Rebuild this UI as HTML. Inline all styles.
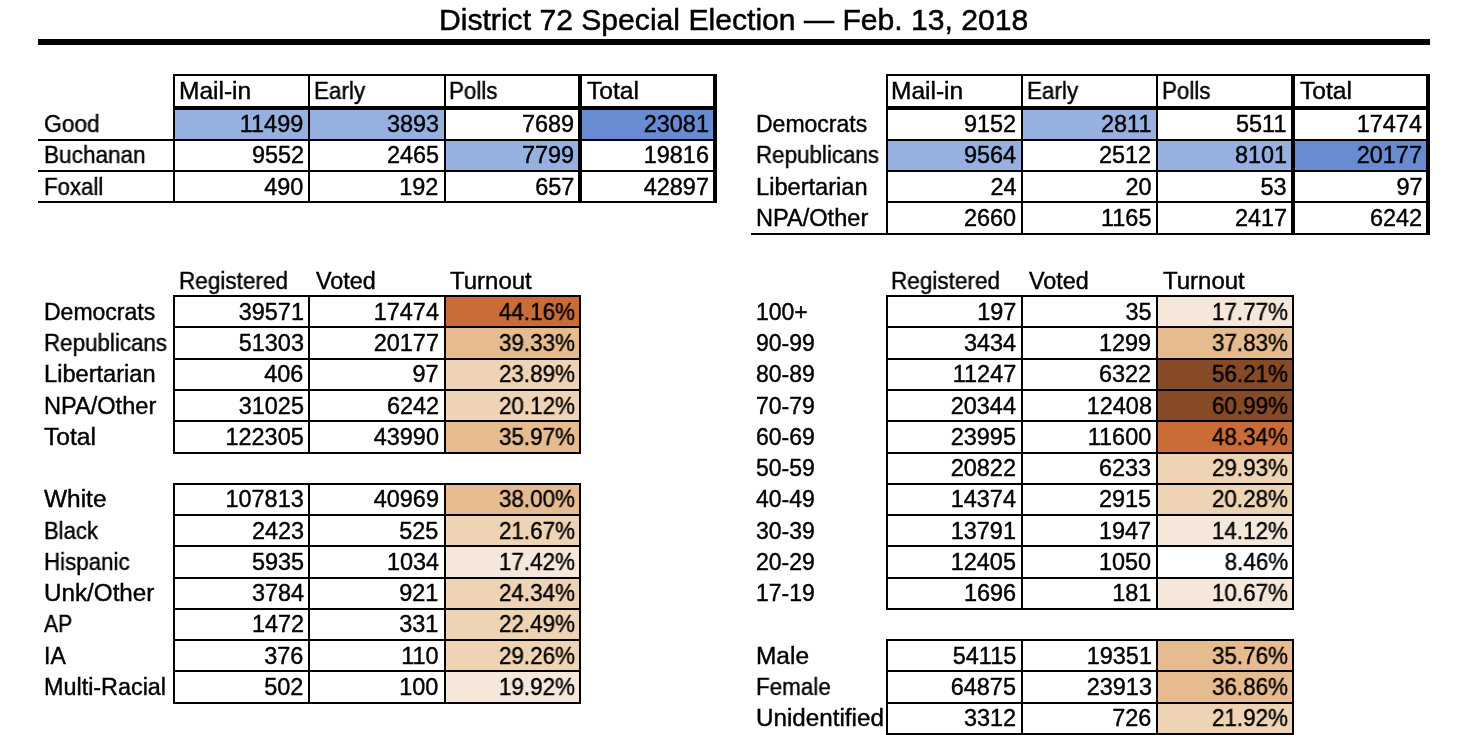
<!DOCTYPE html>
<html><head><meta charset="utf-8"><title>District 72 Special Election</title>
<style>
html,body{margin:0;padding:0;background:#fff;}
body{width:1466px;height:735px;position:relative;overflow:hidden;font-family:"Liberation Sans",sans-serif;color:#000;}
.r{position:absolute;}
.t{position:absolute;will-change:transform;-webkit-text-stroke:0.4px #000;font-size:23px;line-height:26px;white-space:nowrap;}
.l{transform-origin:0 50%;}
.n{transform:scaleX(1.02);transform-origin:100% 50%;}
.p{transform:scaleX(0.975);}
.title{position:absolute;will-change:transform;-webkit-text-stroke:0.5px #000;transform:scaleX(1.004);transform-origin:0 50%;font-size:30px;line-height:34px;white-space:nowrap;}
</style></head><body>
<div class="title" style="left:438.8px;top:3px">District 72 Special Election — Feb. 13, 2018</div>
<div class="r" style="left:38.00px;top:39.00px;width:1392.00px;height:6.00px;background:#000"></div>
<div class="r" style="left:174.30px;top:107.70px;width:135.10px;height:32.00px;background:#96B1DF"></div>
<div class="r" style="left:309.40px;top:107.70px;width:135.10px;height:32.00px;background:#96B1DF"></div>
<div class="r" style="left:579.60px;top:107.70px;width:135.10px;height:32.00px;background:#688BD2"></div>
<div class="r" style="left:444.50px;top:139.70px;width:135.10px;height:31.30px;background:#96B1DF"></div>
<div class="t l" style="left:178.80px;top:77.80px;transform:scaleX(1.066)">Mail-in</div>
<div class="t l" style="left:313.90px;top:77.80px;transform:scaleX(0.975)">Early</div>
<div class="t l" style="left:449.00px;top:77.80px;transform:scaleX(0.974)">Polls</div>
<div class="t l" style="left:587.10px;top:77.80px;transform:scaleX(1.07)">Total</div>
<div class="t l" style="left:43.70px;top:111.00px;transform:scaleX(0.989)">Good</div>
<div class="t n" style="right:1162.30px;top:111.00px">11499</div>
<div class="t n" style="right:1027.20px;top:111.00px">3893</div>
<div class="t n" style="right:892.10px;top:111.00px">7689</div>
<div class="t n" style="right:757.00px;top:111.00px">23081</div>
<div class="t l" style="left:43.70px;top:142.30px;transform:scaleX(0.981)">Buchanan</div>
<div class="t n" style="right:1162.30px;top:142.30px">9552</div>
<div class="t n" style="right:1027.20px;top:142.30px">2465</div>
<div class="t n" style="right:892.10px;top:142.30px">7799</div>
<div class="t n" style="right:757.00px;top:142.30px">19816</div>
<div class="t l" style="left:43.70px;top:173.70px;transform:scaleX(0.967)">Foxall</div>
<div class="t n" style="right:1162.30px;top:173.70px">490</div>
<div class="t n" style="right:1027.20px;top:173.70px">192</div>
<div class="t n" style="right:892.10px;top:173.70px">657</div>
<div class="t n" style="right:757.00px;top:173.70px">42897</div>
<div class="r" style="left:173.30px;top:74.30px;width:543.40px;height:2.00px;background:#000"></div>
<div class="r" style="left:173.30px;top:105.70px;width:543.40px;height:4.00px;background:#000"></div>
<div class="r" style="left:38.20px;top:138.70px;width:678.50px;height:2.00px;background:#000"></div>
<div class="r" style="left:38.20px;top:170.00px;width:678.50px;height:2.00px;background:#000"></div>
<div class="r" style="left:38.20px;top:201.40px;width:678.50px;height:2.00px;background:#000"></div>
<div class="r" style="left:173.30px;top:74.30px;width:2.00px;height:129.10px;background:#000"></div>
<div class="r" style="left:308.40px;top:74.30px;width:2.00px;height:129.10px;background:#000"></div>
<div class="r" style="left:443.50px;top:74.30px;width:2.00px;height:129.10px;background:#000"></div>
<div class="r" style="left:577.60px;top:74.30px;width:4.00px;height:129.10px;background:#000"></div>
<div class="r" style="left:712.70px;top:74.30px;width:4.00px;height:129.10px;background:#000"></div>
<div class="r" style="left:1022.00px;top:107.70px;width:135.30px;height:32.00px;background:#96B1DF"></div>
<div class="r" style="left:886.80px;top:139.70px;width:135.20px;height:31.30px;background:#96B1DF"></div>
<div class="r" style="left:1157.30px;top:139.70px;width:135.30px;height:31.30px;background:#96B1DF"></div>
<div class="r" style="left:1292.60px;top:139.70px;width:135.40px;height:31.30px;background:#688BD2"></div>
<div class="t l" style="left:891.30px;top:77.80px;transform:scaleX(1.066)">Mail-in</div>
<div class="t l" style="left:1026.50px;top:77.80px;transform:scaleX(0.975)">Early</div>
<div class="t l" style="left:1161.80px;top:77.80px;transform:scaleX(0.974)">Polls</div>
<div class="t l" style="left:1300.10px;top:77.80px;transform:scaleX(1.07)">Total</div>
<div class="t l" style="left:756.20px;top:111.00px;transform:scaleX(0.997)">Democrats</div>
<div class="t n" style="right:449.70px;top:111.00px">9152</div>
<div class="t n" style="right:314.40px;top:111.00px">2811</div>
<div class="t n" style="right:179.10px;top:111.00px">5511</div>
<div class="t n" style="right:43.70px;top:111.00px">17474</div>
<div class="t l" style="left:756.20px;top:142.30px;transform:scaleX(0.972)">Republicans</div>
<div class="t n" style="right:449.70px;top:142.30px">9564</div>
<div class="t n" style="right:314.40px;top:142.30px">2512</div>
<div class="t n" style="right:179.10px;top:142.30px">8101</div>
<div class="t n" style="right:43.70px;top:142.30px">20177</div>
<div class="t l" style="left:756.20px;top:173.70px;transform:scaleX(1.027)">Libertarian</div>
<div class="t n" style="right:449.70px;top:173.70px">24</div>
<div class="t n" style="right:314.40px;top:173.70px">20</div>
<div class="t n" style="right:179.10px;top:173.70px">53</div>
<div class="t n" style="right:43.70px;top:173.70px">97</div>
<div class="t l" style="left:756.20px;top:204.90px;transform:scaleX(1.025)">NPA/Other</div>
<div class="t n" style="right:449.70px;top:204.90px">2660</div>
<div class="t n" style="right:314.40px;top:204.90px">1165</div>
<div class="t n" style="right:179.10px;top:204.90px">2417</div>
<div class="t n" style="right:43.70px;top:204.90px">6242</div>
<div class="r" style="left:885.80px;top:74.30px;width:544.20px;height:2.00px;background:#000"></div>
<div class="r" style="left:885.80px;top:105.70px;width:544.20px;height:4.00px;background:#000"></div>
<div class="r" style="left:885.80px;top:138.70px;width:544.20px;height:2.00px;background:#000"></div>
<div class="r" style="left:885.80px;top:170.00px;width:544.20px;height:2.00px;background:#000"></div>
<div class="r" style="left:885.80px;top:201.40px;width:544.20px;height:2.00px;background:#000"></div>
<div class="r" style="left:750.70px;top:232.60px;width:679.30px;height:2.00px;background:#000"></div>
<div class="r" style="left:885.80px;top:74.30px;width:2.00px;height:160.30px;background:#000"></div>
<div class="r" style="left:1021.00px;top:74.30px;width:2.00px;height:160.30px;background:#000"></div>
<div class="r" style="left:1156.30px;top:74.30px;width:2.00px;height:160.30px;background:#000"></div>
<div class="r" style="left:1290.60px;top:74.30px;width:4.00px;height:160.30px;background:#000"></div>
<div class="r" style="left:1426.00px;top:74.30px;width:4.00px;height:160.30px;background:#000"></div>
<div class="t l" style="left:178.80px;top:268.00px;transform:scaleX(0.98)">Registered</div>
<div class="t l" style="left:315.90px;top:268.00px;transform:scaleX(1.016)">Voted</div>
<div class="t l" style="left:450.00px;top:268.00px;transform:scaleX(1.043)">Turnout</div>
<div class="r" style="left:444.50px;top:296.10px;width:135.10px;height:31.28px;background:#C96C37"></div>
<div class="t l" style="left:43.70px;top:298.68px;transform:scaleX(0.997)">Democrats</div>
<div class="t n" style="right:1162.30px;top:298.68px">39571</div>
<div class="t n" style="right:1027.20px;top:298.68px">17474</div>
<div class="t n p" style="right:890.60px;top:298.68px">44.16%</div>
<div class="r" style="left:444.50px;top:327.38px;width:135.10px;height:31.28px;background:#E6BB90"></div>
<div class="t l" style="left:43.70px;top:329.96px;transform:scaleX(0.972)">Republicans</div>
<div class="t n" style="right:1162.30px;top:329.96px">51303</div>
<div class="t n" style="right:1027.20px;top:329.96px">20177</div>
<div class="t n p" style="right:890.60px;top:329.96px">39.33%</div>
<div class="r" style="left:444.50px;top:358.66px;width:135.10px;height:31.28px;background:#EED4B4"></div>
<div class="t l" style="left:43.70px;top:361.24px;transform:scaleX(1.027)">Libertarian</div>
<div class="t n" style="right:1162.30px;top:361.24px">406</div>
<div class="t n" style="right:1027.20px;top:361.24px">97</div>
<div class="t n p" style="right:890.60px;top:361.24px">23.89%</div>
<div class="r" style="left:444.50px;top:389.94px;width:135.10px;height:31.28px;background:#EED4B4"></div>
<div class="t l" style="left:43.70px;top:392.52px;transform:scaleX(1.025)">NPA/Other</div>
<div class="t n" style="right:1162.30px;top:392.52px">31025</div>
<div class="t n" style="right:1027.20px;top:392.52px">6242</div>
<div class="t n p" style="right:890.60px;top:392.52px">20.12%</div>
<div class="r" style="left:444.50px;top:421.22px;width:135.10px;height:31.28px;background:#E6BB90"></div>
<div class="t l" style="left:43.70px;top:423.80px;transform:scaleX(1.07)">Total</div>
<div class="t n" style="right:1162.30px;top:423.80px">122305</div>
<div class="t n" style="right:1027.20px;top:423.80px">43990</div>
<div class="t n p" style="right:890.60px;top:423.80px">35.97%</div>
<div class="r" style="left:173.30px;top:295.10px;width:407.30px;height:2.00px;background:#000"></div>
<div class="r" style="left:173.30px;top:326.38px;width:407.30px;height:2.00px;background:#000"></div>
<div class="r" style="left:173.30px;top:357.66px;width:407.30px;height:2.00px;background:#000"></div>
<div class="r" style="left:173.30px;top:388.94px;width:407.30px;height:2.00px;background:#000"></div>
<div class="r" style="left:173.30px;top:420.22px;width:407.30px;height:2.00px;background:#000"></div>
<div class="r" style="left:173.30px;top:451.50px;width:407.30px;height:2.00px;background:#000"></div>
<div class="r" style="left:173.30px;top:295.10px;width:2.00px;height:158.40px;background:#000"></div>
<div class="r" style="left:308.40px;top:295.10px;width:2.00px;height:158.40px;background:#000"></div>
<div class="r" style="left:443.50px;top:295.10px;width:2.00px;height:158.40px;background:#000"></div>
<div class="r" style="left:578.60px;top:295.10px;width:2.80px;height:158.40px;background:#000"></div>
<div class="r" style="left:444.50px;top:483.78px;width:135.10px;height:31.28px;background:#E6BB90"></div>
<div class="t l" style="left:43.70px;top:486.36px;transform:scaleX(1.063)">White</div>
<div class="t n" style="right:1162.30px;top:486.36px">107813</div>
<div class="t n" style="right:1027.20px;top:486.36px">40969</div>
<div class="t n p" style="right:890.60px;top:486.36px">38.00%</div>
<div class="r" style="left:444.50px;top:515.06px;width:135.10px;height:31.28px;background:#EED4B4"></div>
<div class="t l" style="left:43.70px;top:517.64px;transform:scaleX(0.959)">Black</div>
<div class="t n" style="right:1162.30px;top:517.64px">2423</div>
<div class="t n" style="right:1027.20px;top:517.64px">525</div>
<div class="t n p" style="right:890.60px;top:517.64px">21.67%</div>
<div class="r" style="left:444.50px;top:546.34px;width:135.10px;height:31.28px;background:#F5E7DA"></div>
<div class="t l" style="left:43.70px;top:548.92px;transform:scaleX(0.971)">Hispanic</div>
<div class="t n" style="right:1162.30px;top:548.92px">5935</div>
<div class="t n" style="right:1027.20px;top:548.92px">1034</div>
<div class="t n p" style="right:890.60px;top:548.92px">17.42%</div>
<div class="r" style="left:444.50px;top:577.62px;width:135.10px;height:31.28px;background:#EED4B4"></div>
<div class="t l" style="left:43.70px;top:580.20px;transform:scaleX(1.053)">Unk/Other</div>
<div class="t n" style="right:1162.30px;top:580.20px">3784</div>
<div class="t n" style="right:1027.20px;top:580.20px">921</div>
<div class="t n p" style="right:890.60px;top:580.20px">24.34%</div>
<div class="r" style="left:444.50px;top:608.90px;width:135.10px;height:31.28px;background:#EED4B4"></div>
<div class="t l" style="left:43.70px;top:611.48px;transform:scaleX(0.92)">AP</div>
<div class="t n" style="right:1162.30px;top:611.48px">1472</div>
<div class="t n" style="right:1027.20px;top:611.48px">331</div>
<div class="t n p" style="right:890.60px;top:611.48px">22.49%</div>
<div class="r" style="left:444.50px;top:640.18px;width:135.10px;height:31.28px;background:#EED4B4"></div>
<div class="t l" style="left:43.70px;top:642.76px">IA</div>
<div class="t n" style="right:1162.30px;top:642.76px">376</div>
<div class="t n" style="right:1027.20px;top:642.76px">110</div>
<div class="t n p" style="right:890.60px;top:642.76px">29.26%</div>
<div class="r" style="left:444.50px;top:671.46px;width:135.10px;height:31.28px;background:#F5E7DA"></div>
<div class="t l" style="left:43.70px;top:674.04px;transform:scaleX(1.016)">Multi-Racial</div>
<div class="t n" style="right:1162.30px;top:674.04px">502</div>
<div class="t n" style="right:1027.20px;top:674.04px">100</div>
<div class="t n p" style="right:890.60px;top:674.04px">19.92%</div>
<div class="r" style="left:173.30px;top:482.78px;width:407.30px;height:2.00px;background:#000"></div>
<div class="r" style="left:173.30px;top:514.06px;width:407.30px;height:2.00px;background:#000"></div>
<div class="r" style="left:173.30px;top:545.34px;width:407.30px;height:2.00px;background:#000"></div>
<div class="r" style="left:173.30px;top:576.62px;width:407.30px;height:2.00px;background:#000"></div>
<div class="r" style="left:173.30px;top:607.90px;width:407.30px;height:2.00px;background:#000"></div>
<div class="r" style="left:173.30px;top:639.18px;width:407.30px;height:2.00px;background:#000"></div>
<div class="r" style="left:173.30px;top:670.46px;width:407.30px;height:2.00px;background:#000"></div>
<div class="r" style="left:173.30px;top:701.74px;width:407.30px;height:2.00px;background:#000"></div>
<div class="r" style="left:173.30px;top:482.78px;width:2.00px;height:220.96px;background:#000"></div>
<div class="r" style="left:308.40px;top:482.78px;width:2.00px;height:220.96px;background:#000"></div>
<div class="r" style="left:443.50px;top:482.78px;width:2.00px;height:220.96px;background:#000"></div>
<div class="r" style="left:578.60px;top:482.78px;width:2.80px;height:220.96px;background:#000"></div>
<div class="t l" style="left:891.30px;top:268.00px;transform:scaleX(0.98)">Registered</div>
<div class="t l" style="left:1028.50px;top:268.00px;transform:scaleX(1.016)">Voted</div>
<div class="t l" style="left:1162.80px;top:268.00px;transform:scaleX(1.043)">Turnout</div>
<div class="r" style="left:1157.30px;top:296.10px;width:135.30px;height:31.28px;background:#F5E7DA"></div>
<div class="t l" style="left:756.20px;top:298.68px">100+</div>
<div class="t n" style="right:449.70px;top:298.68px">197</div>
<div class="t n" style="right:314.40px;top:298.68px">35</div>
<div class="t n p" style="right:177.60px;top:298.68px">17.77%</div>
<div class="r" style="left:1157.30px;top:327.38px;width:135.30px;height:31.28px;background:#E6BB90"></div>
<div class="t l" style="left:756.20px;top:329.96px">90-99</div>
<div class="t n" style="right:449.70px;top:329.96px">3434</div>
<div class="t n" style="right:314.40px;top:329.96px">1299</div>
<div class="t n p" style="right:177.60px;top:329.96px">37.83%</div>
<div class="r" style="left:1157.30px;top:358.66px;width:135.30px;height:31.28px;background:#864A26"></div>
<div class="t l" style="left:756.20px;top:361.24px">80-89</div>
<div class="t n" style="right:449.70px;top:361.24px">11247</div>
<div class="t n" style="right:314.40px;top:361.24px">6322</div>
<div class="t n p" style="right:177.60px;top:361.24px">56.21%</div>
<div class="r" style="left:1157.30px;top:389.94px;width:135.30px;height:31.28px;background:#864A26"></div>
<div class="t l" style="left:756.20px;top:392.52px">70-79</div>
<div class="t n" style="right:449.70px;top:392.52px">20344</div>
<div class="t n" style="right:314.40px;top:392.52px">12408</div>
<div class="t n p" style="right:177.60px;top:392.52px">60.99%</div>
<div class="r" style="left:1157.30px;top:421.22px;width:135.30px;height:31.28px;background:#C96C37"></div>
<div class="t l" style="left:756.20px;top:423.80px">60-69</div>
<div class="t n" style="right:449.70px;top:423.80px">23995</div>
<div class="t n" style="right:314.40px;top:423.80px">11600</div>
<div class="t n p" style="right:177.60px;top:423.80px">48.34%</div>
<div class="r" style="left:1157.30px;top:452.50px;width:135.30px;height:31.28px;background:#EED4B4"></div>
<div class="t l" style="left:756.20px;top:455.08px">50-59</div>
<div class="t n" style="right:449.70px;top:455.08px">20822</div>
<div class="t n" style="right:314.40px;top:455.08px">6233</div>
<div class="t n p" style="right:177.60px;top:455.08px">29.93%</div>
<div class="r" style="left:1157.30px;top:483.78px;width:135.30px;height:31.28px;background:#EED4B4"></div>
<div class="t l" style="left:756.20px;top:486.36px">40-49</div>
<div class="t n" style="right:449.70px;top:486.36px">14374</div>
<div class="t n" style="right:314.40px;top:486.36px">2915</div>
<div class="t n p" style="right:177.60px;top:486.36px">20.28%</div>
<div class="r" style="left:1157.30px;top:515.06px;width:135.30px;height:31.28px;background:#F5E7DA"></div>
<div class="t l" style="left:756.20px;top:517.64px">30-39</div>
<div class="t n" style="right:449.70px;top:517.64px">13791</div>
<div class="t n" style="right:314.40px;top:517.64px">1947</div>
<div class="t n p" style="right:177.60px;top:517.64px">14.12%</div>
<div class="t l" style="left:756.20px;top:548.92px">20-29</div>
<div class="t n" style="right:449.70px;top:548.92px">12405</div>
<div class="t n" style="right:314.40px;top:548.92px">1050</div>
<div class="t n p" style="right:177.60px;top:548.92px">8.46%</div>
<div class="r" style="left:1157.30px;top:577.62px;width:135.30px;height:31.28px;background:#F5E7DA"></div>
<div class="t l" style="left:756.20px;top:580.20px">17-19</div>
<div class="t n" style="right:449.70px;top:580.20px">1696</div>
<div class="t n" style="right:314.40px;top:580.20px">181</div>
<div class="t n p" style="right:177.60px;top:580.20px">10.67%</div>
<div class="r" style="left:885.80px;top:295.10px;width:407.80px;height:2.00px;background:#000"></div>
<div class="r" style="left:885.80px;top:326.38px;width:407.80px;height:2.00px;background:#000"></div>
<div class="r" style="left:885.80px;top:357.66px;width:407.80px;height:2.00px;background:#000"></div>
<div class="r" style="left:885.80px;top:388.94px;width:407.80px;height:2.00px;background:#000"></div>
<div class="r" style="left:885.80px;top:420.22px;width:407.80px;height:2.00px;background:#000"></div>
<div class="r" style="left:885.80px;top:451.50px;width:407.80px;height:2.00px;background:#000"></div>
<div class="r" style="left:885.80px;top:482.78px;width:407.80px;height:2.00px;background:#000"></div>
<div class="r" style="left:885.80px;top:514.06px;width:407.80px;height:2.00px;background:#000"></div>
<div class="r" style="left:885.80px;top:545.34px;width:407.80px;height:2.00px;background:#000"></div>
<div class="r" style="left:885.80px;top:576.62px;width:407.80px;height:2.00px;background:#000"></div>
<div class="r" style="left:885.80px;top:607.90px;width:407.80px;height:2.00px;background:#000"></div>
<div class="r" style="left:885.80px;top:295.10px;width:2.00px;height:314.80px;background:#000"></div>
<div class="r" style="left:1021.00px;top:295.10px;width:2.00px;height:314.80px;background:#000"></div>
<div class="r" style="left:1156.30px;top:295.10px;width:2.00px;height:314.80px;background:#000"></div>
<div class="r" style="left:1291.60px;top:295.10px;width:2.80px;height:314.80px;background:#000"></div>
<div class="r" style="left:1157.30px;top:640.18px;width:135.30px;height:31.28px;background:#E6BB90"></div>
<div class="t l" style="left:756.20px;top:642.76px;transform:scaleX(1.063)">Male</div>
<div class="t n" style="right:449.70px;top:642.76px">54115</div>
<div class="t n" style="right:314.40px;top:642.76px">19351</div>
<div class="t n p" style="right:177.60px;top:642.76px">35.76%</div>
<div class="r" style="left:1157.30px;top:671.46px;width:135.30px;height:31.28px;background:#E6BB90"></div>
<div class="t l" style="left:756.20px;top:674.04px;transform:scaleX(0.974)">Female</div>
<div class="t n" style="right:449.70px;top:674.04px">64875</div>
<div class="t n" style="right:314.40px;top:674.04px">23913</div>
<div class="t n p" style="right:177.60px;top:674.04px">36.86%</div>
<div class="r" style="left:1157.30px;top:702.74px;width:135.30px;height:31.28px;background:#EED4B4"></div>
<div class="t l" style="left:756.20px;top:705.32px;transform:scaleX(1.053)">Unidentified</div>
<div class="t n" style="right:449.70px;top:705.32px">3312</div>
<div class="t n" style="right:314.40px;top:705.32px">726</div>
<div class="t n p" style="right:177.60px;top:705.32px">21.92%</div>
<div class="r" style="left:885.80px;top:639.18px;width:407.80px;height:2.00px;background:#000"></div>
<div class="r" style="left:885.80px;top:670.46px;width:407.80px;height:2.00px;background:#000"></div>
<div class="r" style="left:885.80px;top:701.74px;width:407.80px;height:2.00px;background:#000"></div>
<div class="r" style="left:885.80px;top:733.02px;width:407.80px;height:2.00px;background:#000"></div>
<div class="r" style="left:885.80px;top:639.18px;width:2.00px;height:95.84px;background:#000"></div>
<div class="r" style="left:1021.00px;top:639.18px;width:2.00px;height:95.84px;background:#000"></div>
<div class="r" style="left:1156.30px;top:639.18px;width:2.00px;height:95.84px;background:#000"></div>
<div class="r" style="left:1291.60px;top:639.18px;width:2.80px;height:95.84px;background:#000"></div>
</body></html>
